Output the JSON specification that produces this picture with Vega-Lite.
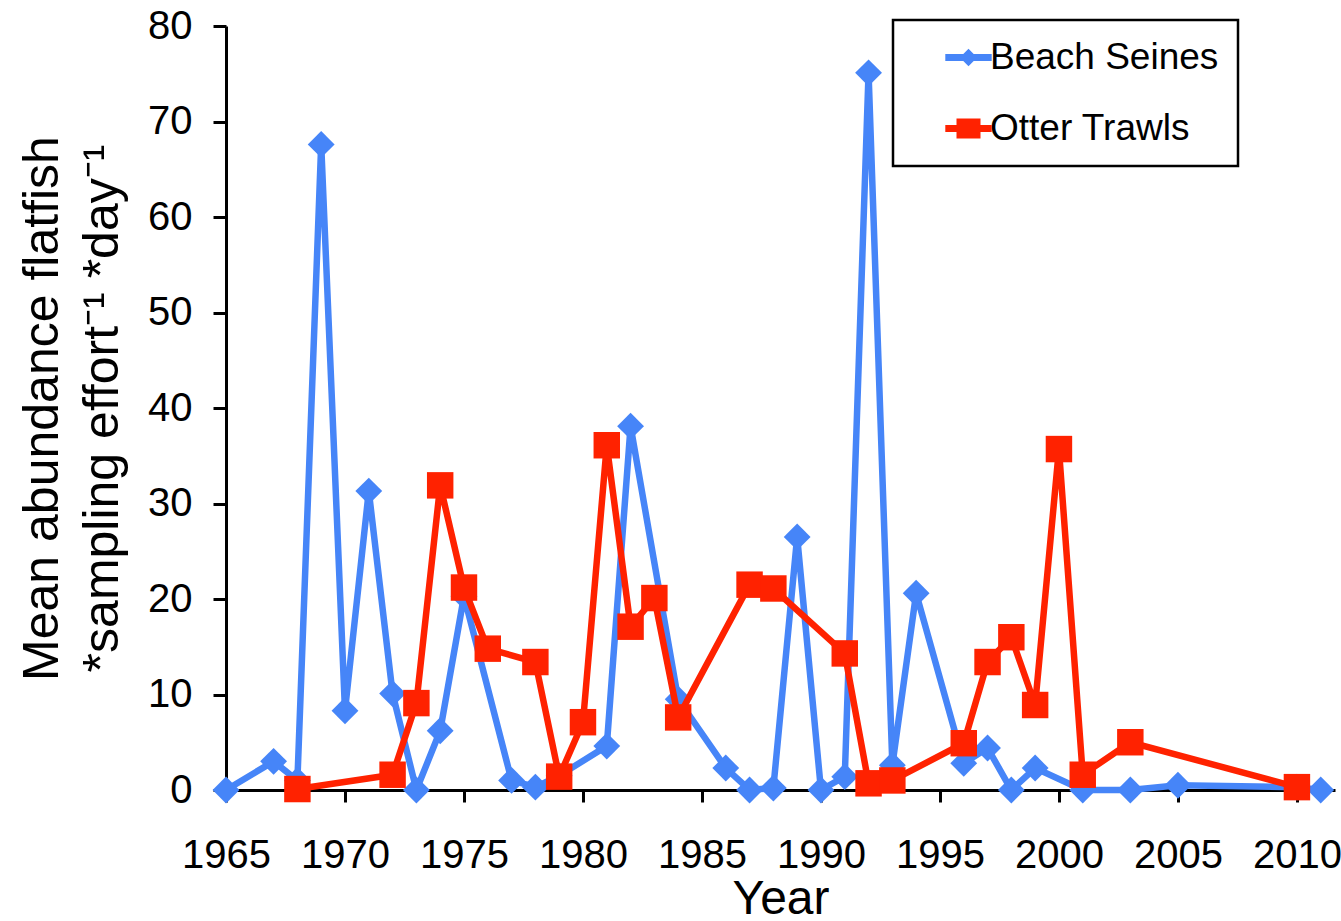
{
  "$schema": "https://vega.github.io/schema/vega-lite/v6.json",
  "width": 1109,
  "height": 764,
  "autosize": {"type": "none"},
  "padding": {"left": 226, "top": 26, "right": 6, "bottom": 131},
  "background": "white",
  "config": {
    "view": {"stroke": null},
    "font": "Liberation Sans",
    "axis": {
      "domainColor": "black",
      "domainWidth": 3,
      "tickColor": "black",
      "tickWidth": 3,
      "tickSize": 12,
      "labelFont": "Liberation Sans",
      "labelFontSize": 40,
      "labelColor": "black",
      "labelFlush": false,
      "labelOverlap": false,
      "titleFont": "Liberation Sans",
      "titleFontSize": 48,
      "titleFontWeight": "normal",
      "titleColor": "black",
      "grid": false
    }
  },
  "data": {
    "values": [
      {"Year": 1965, "Value": 0, "Series": "Beach Seines"},
      {"Year": 1967, "Value": 3, "Series": "Beach Seines"},
      {"Year": 1968, "Value": 1, "Series": "Beach Seines"},
      {"Year": 1969, "Value": 67.6, "Series": "Beach Seines"},
      {"Year": 1970, "Value": 8.3, "Series": "Beach Seines"},
      {"Year": 1971, "Value": 31.3, "Series": "Beach Seines"},
      {"Year": 1972, "Value": 10.1, "Series": "Beach Seines"},
      {"Year": 1973, "Value": 0, "Series": "Beach Seines"},
      {"Year": 1974, "Value": 6.2, "Series": "Beach Seines"},
      {"Year": 1975, "Value": 20.3, "Series": "Beach Seines"},
      {"Year": 1977, "Value": 1, "Series": "Beach Seines"},
      {"Year": 1978, "Value": 0.3, "Series": "Beach Seines"},
      {"Year": 1979, "Value": 1.5, "Series": "Beach Seines"},
      {"Year": 1981, "Value": 4.6, "Series": "Beach Seines"},
      {"Year": 1982, "Value": 38.1, "Series": "Beach Seines"},
      {"Year": 1984, "Value": 9.5, "Series": "Beach Seines"},
      {"Year": 1986, "Value": 2.3, "Series": "Beach Seines"},
      {"Year": 1987, "Value": 0, "Series": "Beach Seines"},
      {"Year": 1988, "Value": 0.2, "Series": "Beach Seines"},
      {"Year": 1989, "Value": 26.5, "Series": "Beach Seines"},
      {"Year": 1990, "Value": 0, "Series": "Beach Seines"},
      {"Year": 1991, "Value": 1.4, "Series": "Beach Seines"},
      {"Year": 1992, "Value": 75.1, "Series": "Beach Seines"},
      {"Year": 1993, "Value": 2.6, "Series": "Beach Seines"},
      {"Year": 1994, "Value": 20.6, "Series": "Beach Seines"},
      {"Year": 1996, "Value": 2.8, "Series": "Beach Seines"},
      {"Year": 1997, "Value": 4.4, "Series": "Beach Seines"},
      {"Year": 1998, "Value": 0, "Series": "Beach Seines"},
      {"Year": 1999, "Value": 2.3, "Series": "Beach Seines"},
      {"Year": 2001, "Value": 0, "Series": "Beach Seines"},
      {"Year": 2003, "Value": 0, "Series": "Beach Seines"},
      {"Year": 2005, "Value": 0.5, "Series": "Beach Seines"},
      {"Year": 2010, "Value": 0.3, "Series": "Beach Seines"},
      {"Year": 2011, "Value": 0, "Series": "Beach Seines"},
      {"Year": 1968, "Value": 0.1, "Series": "Otter Trawls"},
      {"Year": 1972, "Value": 1.6, "Series": "Otter Trawls"},
      {"Year": 1973, "Value": 9.1, "Series": "Otter Trawls"},
      {"Year": 1974, "Value": 31.9, "Series": "Otter Trawls"},
      {"Year": 1975, "Value": 21.2, "Series": "Otter Trawls"},
      {"Year": 1976, "Value": 14.8, "Series": "Otter Trawls"},
      {"Year": 1978, "Value": 13.4, "Series": "Otter Trawls"},
      {"Year": 1979, "Value": 1.4, "Series": "Otter Trawls"},
      {"Year": 1980, "Value": 7.1, "Series": "Otter Trawls"},
      {"Year": 1981, "Value": 36.1, "Series": "Otter Trawls"},
      {"Year": 1982, "Value": 17.1, "Series": "Otter Trawls"},
      {"Year": 1983, "Value": 20.1, "Series": "Otter Trawls"},
      {"Year": 1984, "Value": 7.6, "Series": "Otter Trawls"},
      {"Year": 1987, "Value": 21.5, "Series": "Otter Trawls"},
      {"Year": 1988, "Value": 21.1, "Series": "Otter Trawls"},
      {"Year": 1991, "Value": 14.3, "Series": "Otter Trawls"},
      {"Year": 1992, "Value": 0.7, "Series": "Otter Trawls"},
      {"Year": 1993, "Value": 1.0, "Series": "Otter Trawls"},
      {"Year": 1996, "Value": 4.9, "Series": "Otter Trawls"},
      {"Year": 1997, "Value": 13.4, "Series": "Otter Trawls"},
      {"Year": 1998, "Value": 16.0, "Series": "Otter Trawls"},
      {"Year": 1999, "Value": 8.9, "Series": "Otter Trawls"},
      {"Year": 2000, "Value": 35.7, "Series": "Otter Trawls"},
      {"Year": 2001, "Value": 1.6, "Series": "Otter Trawls"},
      {"Year": 2003, "Value": 5.0, "Series": "Otter Trawls"},
      {"Year": 2010, "Value": 0.3, "Series": "Otter Trawls"}
    ]
  },
  "encoding": {
    "x": {
      "field": "Year",
      "type": "quantitative",
      "scale": {"domain": [1965, 2011.6], "nice": false, "zero": false},
      "axis": {
        "values": [1965, 1970, 1975, 1980, 1985, 1990, 1995, 2000, 2005, 2010],
        "format": "d",
        "title": "Year",
        "labelPadding": 33,
        "titlePadding": 0
      }
    },
    "y": {
      "field": "Value",
      "type": "quantitative",
      "scale": {"domain": [0, 80], "nice": false},
      "axis": {
        "values": [0, 10, 20, 30, 40, 50, 60, 70, 80],
        "title": ["Mean abundance flatfish", "*sampling effort⁻¹ *day⁻¹"],
        "titleFontSize": 50,
        "titleLineHeight": 60,
        "tickSize": 13,
        "labelPadding": 21,
        "titlePadding": 20
      }
    },
    "color": {
      "field": "Series",
      "type": "nominal",
      "scale": {"domain": ["Beach Seines", "Otter Trawls"], "range": ["#4685F8", "#FF2200"]},
      "legend": {
        "orient": "none",
        "legendX": 667,
        "legendY": -6,
        "title": null,
        "labelFont": "Liberation Sans",
        "labelFontSize": 37,
        "labelColor": "black",
        "labelLimit": 600,
        "labelExpr": "datum.label + '\u00a0\u00a0\u00a0'",
        "symbolSize": 256,
        "symbolStrokeWidth": 0,
        "symbolOffset": 38,
        "labelOffset": 3,
        "rowPadding": 33,
        "padding": 19,
        "fillColor": "white",
        "strokeColor": "black",
        "encode": {
          "legend": {"update": {"strokeWidth": {"value": 2.5}}},
          "symbols": {
            "update": {
              "shape": {"signal": "datum.value === 'Beach Seines' ? 'M-2.9,-0.45H-0.65L0,-1.1L0.65,-0.45H2.9V0.45H0.65L0,1.1L-0.65,0.45H-2.9Z' : 'M-2.9,-0.45H-1.5V-1.25H1.5V-0.45H2.9V0.45H1.5V1.25H-1.5V0.45H-2.9Z'"},
              "fill": {"signal": "datum.value === 'Beach Seines' ? '#4685F8' : '#FF2200'"},
              "fillOpacity": {"value": 1},
              "opacity": {"value": 1},
              "stroke": {"value": "transparent"},
              "strokeWidth": {"value": 0}
            }
          }
        }
      }
    }
  },
  "layer": [
    {
      "transform": [{"filter": "datum.Series === 'Beach Seines'"}],
      "mark": {"type": "line", "strokeWidth": 6.5, "clip": false}
    },
    {
      "transform": [{"filter": "datum.Series === 'Beach Seines'"}],
      "mark": {"type": "point", "shape": "diamond", "filled": true, "opacity": 1, "size": 720, "clip": false}
    },
    {
      "transform": [{"filter": "datum.Series === 'Otter Trawls'"}],
      "mark": {"type": "line", "strokeWidth": 6.5, "clip": false}
    },
    {
      "transform": [{"filter": "datum.Series === 'Otter Trawls'"}],
      "mark": {"type": "point", "shape": "square", "filled": true, "opacity": 1, "size": 700, "clip": false}
    }
  ]
}
